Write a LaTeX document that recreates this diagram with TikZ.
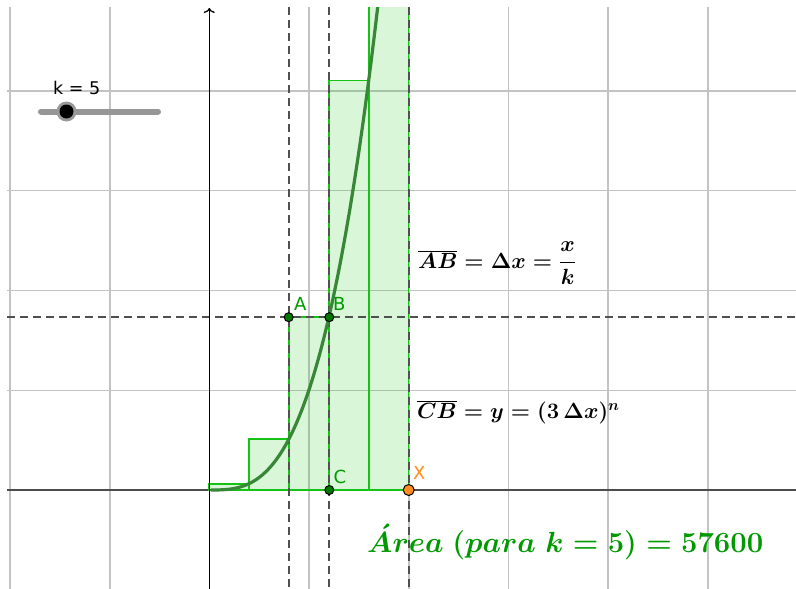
\RequirePackage{fix-cm}
\documentclass[tikz,border=0pt]{standalone}
\usepackage[no-math]{fontspec}
\usetikzlibrary{arrows.meta}
\newfontfamily\gsans{DejaVu Sans}
\definecolor{gridc}{RGB}{195,195,195}
\definecolor{rectc}{RGB}{20,195,20}
\definecolor{rectf}{RGB}{0,200,0}
\definecolor{curvec}{RGB}{55,135,55}
\definecolor{lblc}{RGB}{0,153,0}
\definecolor{ptc}{RGB}{0,120,0}
\definecolor{orangec}{RGB}{255,140,30}
\definecolor{dashc}{RGB}{80,80,80}
\definecolor{sliderc}{RGB}{150,150,150}
\tikzset{
  gridline/.style={draw=gridc, line width=1.6pt},
  rectbox/.style={draw=rectc, line width=1.8pt, fill=rectf, fill opacity=0.15},
  dashln/.style={draw=dashc, line width=1.9pt, dash pattern=on 8pt off 5pt},
  curveln/.style={draw=curvec, line width=3.2pt, line cap=round},
  ptdot/.style={circle, draw=black, fill=ptc, line width=1pt, inner sep=0pt, minimum size=9pt},
  xdot/.style={circle, draw=black, fill=orangec, line width=1pt, inner sep=0pt, minimum size=11pt},
  ptlbl/.style={font=\gsans\fontsize{18}{20}\selectfont, text=lblc, inner sep=0pt},
  mathlbl/.style={font=\fontsize{22}{26}\selectfont\boldmath, inner sep=0pt, anchor=base west},
}
\begin{document}
\begin{tikzpicture}[x=1pt,y=-1pt]
\useasboundingbox (0,0) rectangle (796,589);
\fill[white] (0,0) rectangle (796,589);
\begin{scope}
\clip (7,7) rectangle (796,589);
% grid
\foreach \gx in {10,110,309,409,508.5,608,708}
  \draw[gridline] (\gx,7) -- (\gx,589);
\foreach \gy in {91,190.5,290.5,390.5}
  \draw[gridline] (7,\gy) -- (796,\gy);
% x axis
\draw[draw=black!70, line width=1.8pt] (7,490) -- (796,490);
% rectangles
\foreach \i in {1,...,5}{
  \pgfmathsetmacro{\xl}{209.3+39.85*(\i-1)}
  \pgfmathsetmacro{\xr}{209.3+39.85*\i}
  \pgfmathsetmacro{\yt}{max(490-6.4*\i*\i*\i,5)}
  \draw[rectbox] (\xl,490) rectangle (\xr,\yt);
}
% dashed lines
\draw[dashln] (288.7,7) -- (288.7,589);
\draw[dashln] (329.3,7) -- (329.3,589);
\draw[dashln] (408.7,7) -- (408.7,589);
\draw[dashln] (7,317.2) -- (796,317.2);
% curve
\draw[curveln] plot[domain=0.05:4.3, samples=100] ({209.3+39.85*\x},{490-6.4*\x*\x*\x});
\end{scope}
% y axis
\coordinate (ybot) at (209.3,589);
\coordinate (ytop) at (209.3,8);
\draw[black, line width=1.3pt, -{To[length=5pt,width=11pt]}] (ybot) -- (ytop);
% slider
\coordinate (sl) at (41,111.5);
\coordinate (sr) at (158,111.5);
\draw[draw=sliderc, line width=6pt, line cap=round] (sl) -- (sr);
\node[circle, fill=gray!80, inner sep=0pt, minimum size=20pt] (knobring) at (66.5,111.5) {};
\node[circle, fill=black, inner sep=0pt, minimum size=14pt] (knob) at (knobring.center) {};
\node[font=\gsans\fontsize{17.5}{20}\selectfont, anchor=base west, inner sep=0pt] (klbl) at (53,94) {k = 5};
% points
\node[ptdot] (A) at (288.7,317.2) {};
\node[ptdot] (B) at (329.3,317.2) {};
\node[ptdot] (C) at (329.3,490) {};
\node[xdot] (X) at (408.7,490) {};
\node[ptlbl, anchor=base west] (Alab) at (294,310) {A};
\node[ptlbl, anchor=base west] (Blab) at (333,310) {B};
\node[ptlbl, anchor=base west] (Clab) at (333.5,483.5) {C};
\node[ptlbl, text=orangec, anchor=base west] (Xlab) at (413,479.5) {X};
% formulas
\node[mathlbl] (f1) at (418,268) {$\displaystyle\overline{AB}=\Delta x=\frac{x}{k}$};
\node[mathlbl] (f2) at (417,418) {$\overline{CB}=y=(3\,\Delta x)^n$};
\node[font=\fontsize{29.2}{32}\selectfont\boldmath, text=lblc, inner sep=0pt, anchor=base west] (area) at (367,552) {$\acute{A}rea\ (para\; k=5)=57600$};
\end{tikzpicture}
\end{document}
